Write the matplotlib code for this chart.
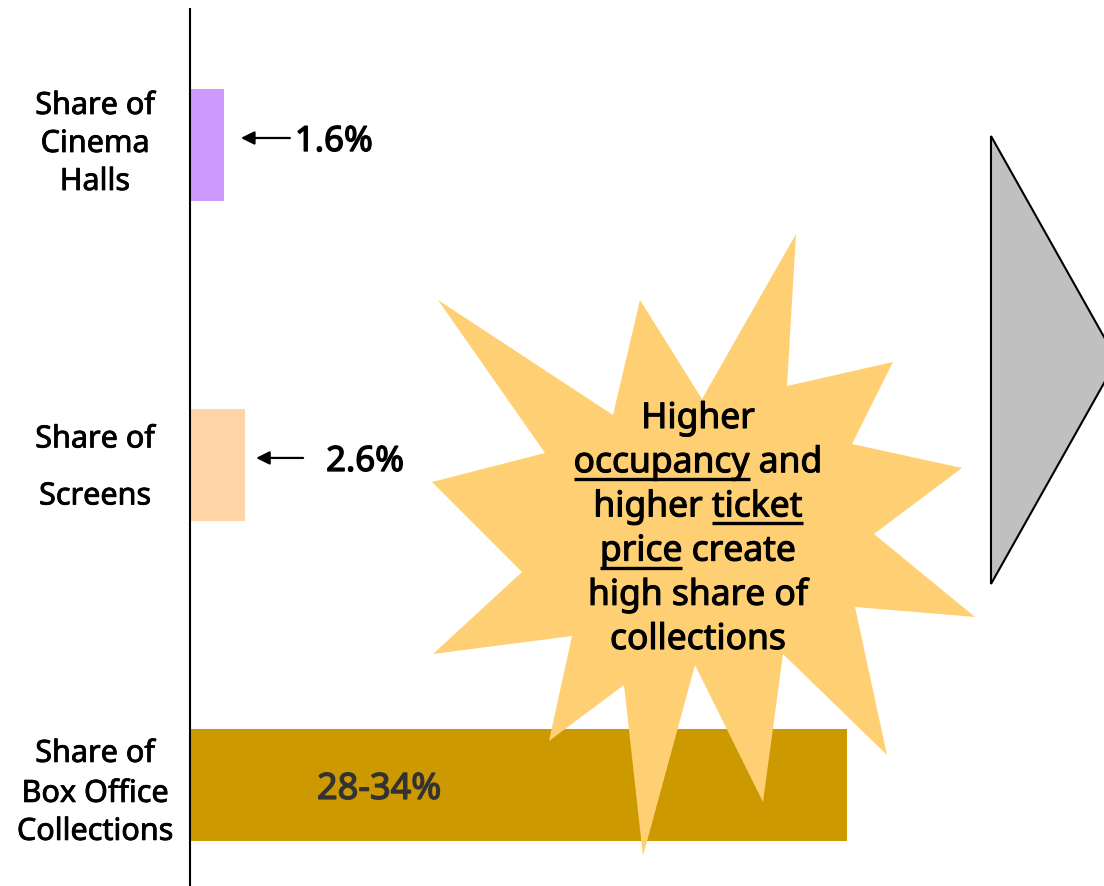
import matplotlib
matplotlib.use("Agg")
import matplotlib.pyplot as plt
import matplotlib.patheffects as pe
from matplotlib.patches import Polygon
from matplotlib.transforms import offset_copy

plt.rcParams['font.family'] = ['Noto Sans', 'DejaVu Sans']

# shares of the multiplex segment (percent)
categories = ["Share of\nCinema\nHalls", "Share of\nScreens", "Share of\nBox Office\nCollections"]
share_low = [1.6, 2.6, 28]
share_high = [1.6, 2.6, 34]
share_labels = ["1.6%", "2.6%", "28-34%"]
bar_colors = ['#CC99FF', '#FFD5A8', '#CC9900']

callout_lines = [
    [("Higher", False)],
    [("occupancy", True), (" and", False)],
    [("higher ", False), ("ticket", True)],
    [("price", True), (" create", False)],
    [("high share of", False)],
    [("collections", False)],
]

# starburst outline, figure pixels (x right, y down)
burst_x = [796, 787, 893, 852, 962, 874, 975, 855, 887, 783, 763, 695,
           643, 624, 549, 572, 433, 522, 432, 545, 438, 613, 640, 702]
burst_y = [235, 387, 363, 445, 469, 535, 618, 608, 756, 655, 803, 666,
           857, 686, 742, 637, 655, 573, 483, 454, 301, 416, 301, 400]


def heavy(lw, color='black'):
    # thicken the regular face a little
    return [pe.withStroke(linewidth=lw, foreground=color)]


W, H = 1104, 887
fig = plt.figure(figsize=(W / 100, H / 100), dpi=100)

# bar panel: starts at the vertical axis line
px_per_pct = 657 / 31
ax = fig.add_axes([190 / W, 0, (W - 190) / W, (H - 10) / H])
ax.set_xlim(0, (W - 190) / px_per_pct)
ax.set_ylim(2.316, -0.425)

mid = [(lo + hi) / 2 for lo, hi in zip(share_low, share_high)]
ax.barh(range(len(categories)), mid, height=0.35, color=bar_colors, zorder=2)

for s in ['top', 'right', 'bottom']:
    ax.spines[s].set_visible(False)
ax.spines['left'].set_linewidth(1.5)
ax.set_xticks([])
ax.set_yticks([])

# category names, one line at a time (baseline offsets in pixels from bar centre)
line_offsets = [[31, -7, -45], [17.5, -39.5], [23, -17, -55]]
for i, name in enumerate(categories):
    for line, dy in zip(name.split('\n'), line_offsets[i]):
        ax.annotate(line, xy=(0, i), xycoords=('axes fraction', 'data'),
                    xytext=(-95, dy), textcoords='offset pixels',
                    ha='center', va='baseline', fontsize=22, annotation_clip=False,
                    path_effects=heavy(0.6))

# arrow callouts for the two small bars
arrow_tip = [17, 11]
arrow_tail = [66, 58]
text_gap = [71, 81]
for i in range(2):
    tip = offset_copy(ax.transData, fig=fig, x=arrow_tip[i], y=7, units='dots')
    ax.annotate('', xy=(mid[i], i), xycoords=tip,
                xytext=(arrow_tail[i] - arrow_tip[i], 0), textcoords='offset pixels',
                arrowprops=dict(arrowstyle='-|>', color='black', lw=1.6,
                                mutation_scale=20, shrinkA=0, shrinkB=0),
                annotation_clip=False)
    ax.annotate(share_labels[i], xy=(mid[i], i), xytext=(text_gap[i], -6),
                textcoords='offset pixels', fontsize=25, va='baseline', ha='left',
                path_effects=heavy(1.0))

ax.annotate(share_labels[2], xy=(0, 2), xytext=(127, -14), textcoords='offset pixels',
            fontsize=26, va='baseline', ha='left', color='#333333', zorder=3,
            path_effects=heavy(1.0, '#333333'))

# overlay in pixel units for the starburst and the arrow shape
ov = fig.add_axes([0, 0, 1, 1])
ov.set_xlim(0, W)
ov.set_ylim(H, 0)
ov.axis('off')
ov.patch.set_alpha(0)

ov.add_patch(Polygon(list(zip(burst_x, burst_y)), closed=True,
                     facecolor='#FFD073', edgecolor='none'))
ov.add_patch(Polygon([(991, 137), (991, 585), (1117, 361)], closed=True,
                     facecolor='#C0C0C0', edgecolor='black', lw=1.5))

cx, base0, step = 698, 429, 44.2
fsize = 25.5
texts = []
for i, segs in enumerate(callout_lines):
    line = ''.join(w for w, _ in segs)
    t = ov.text(cx, base0 + i * step, line, ha='center', va='baseline',
                fontsize=fsize, color='black', path_effects=heavy(0.8))
    texts.append((t, segs))

fig.canvas.draw()
renderer = fig.canvas.get_renderer()


def text_width(s, t):
    return renderer.get_text_width_height_descent(s, t.get_fontproperties(), False)[0]


for i, (t, segs) in enumerate(texts):
    line = ''.join(w for w, _ in segs)
    left = cx - text_width(line, t) / 2
    prefix = ''
    for word, under in segs:
        if under:
            end = left + text_width(prefix + word, t)
            start = end - text_width(word, t)
            y = base0 + i * step + 7
            ov.plot([start, end], [y, y], color='black', lw=2.4, solid_capstyle='butt')
        prefix += word

fig.savefig("out.png", dpi=100)
